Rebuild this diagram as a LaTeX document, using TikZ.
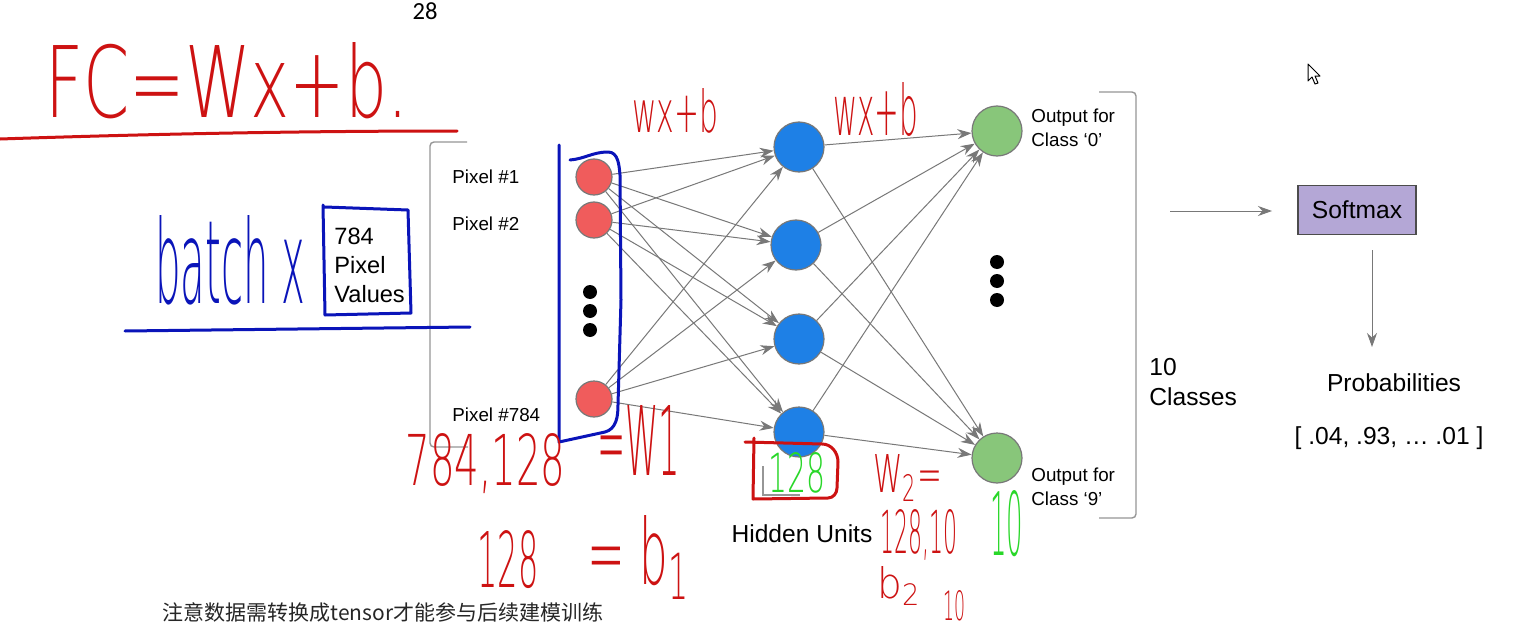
\documentclass[tikz,border=0pt]{standalone}
\usepackage{fontspec}
\setmainfont{Liberation Sans}
\newfontfamily\cjk{Noto Sans CJK SC}
\newfontfamily\slidenum{Carlito}
\IfFontExistsTF{DejaVu Sans ExtraLight}
    {\newfontfamily\handfont{DejaVu Sans ExtraLight}}
    {\newfontfamily\handfont{Fira Sans}}
\usetikzlibrary{arrows.meta}
\definecolor{pixred}{RGB}{240,92,92}
\definecolor{hidblue}{RGB}{30,128,230}
\definecolor{outgreen}{RGB}{136,198,122}
\definecolor{softpurple}{RGB}{180,167,214}
\definecolor{edgegray}{RGB}{120,120,120}
\definecolor{brackgray}{RGB}{150,150,150}
\definecolor{penred}{RGB}{205,18,18}
\definecolor{penblue}{RGB}{10,20,185}
\definecolor{pengreen}{RGB}{40,215,40}
\newlength\pxlen
\setlength\pxlen{0.5pt}
\newcommand{\hand}[3]{\resizebox{#1\pxlen}{#2\pxlen}{\handfont #3}}
\begin{document}
\begin{tikzpicture}[x=0.5pt,y=-0.5pt,
    unit/.style={circle,draw=edgegray,line width=0.6pt,inner sep=0pt},
    pixnode/.style={unit,fill=pixred,minimum size=18pt},
    hidnode/.style={unit,fill=hidblue,minimum size=25pt},
    outnode/.style={unit,fill=outgreen,minimum size=25pt},
    dot/.style={circle,fill=black,inner sep=0pt,minimum size=7pt},
    conn/.style={draw=edgegray,line width=0.5pt,-{Stealth[length=7pt,width=5pt]}},
    lbl/.style={font=\fontsize{9.4}{12}\selectfont,inner sep=0pt,align=left},
    big/.style={font=\fontsize{12.3}{15}\selectfont,inner sep=0pt,align=left},
    pen/.style={line width=1.5pt,line cap=round,line join=round},
    hw/.style={inner sep=0pt,anchor=base west}]
    \fill[white] (0,0) rectangle (1528,637);
    \useasboundingbox (0,0) rectangle (1528,637);
    \node[font=\slidenum\fontsize{12.3}{14}\selectfont] (pagenum) at (425,11) {28};

    % brackets
    \draw[brackgray,line width=0.7pt,rounded corners=2pt] (467,142) -- (430,142) -- (430,447) -- (468,447);
    \draw[brackgray,line width=0.7pt,rounded corners=2pt] (1099,92) -- (1136,92) -- (1136,518) -- (1099,518);

    % input layer
    \node[pixnode] (pix1) at (594,177) {};
    \node[pixnode] (pix2) at (594,220) {};
    \node[pixnode] (pix784) at (594,399) {};
    \foreach \y in {292,311,330} \node[dot] at (590,\y) {};
    \node[lbl,anchor=west] (pix1lbl) at (452,177) {Pixel \#1};
    \node[lbl,anchor=west] (pix2lbl) at (452,224) {Pixel \#2};
    \node[lbl,anchor=west] (pix784lbl) at (452,415) {Pixel \#784};
    \node[font=\fontsize{11.8}{14.5}\selectfont,inner sep=0pt,align=left,anchor=west] (pixvals) at (334,265) {784\\Pixel\\Values};

    % hidden layer
    \node[hidnode] (hid1) at (799,147) {};
    \node[hidnode] (hid2) at (796,245) {};
    \node[hidnode] (hid3) at (799,339) {};
    \node[hidnode] (hid4) at (799,432) {};
    \node[big] (hidlbl) at (802,534) {Hidden Units};

    % output layer
    \node[outnode] (out0) at (997,131) {};
    \node[outnode] (out9) at (997,458) {};
    \foreach \y in {262,281,300} \node[dot] at (997,\y) {};
    \node[lbl,anchor=west] (out0lbl) at (1031,128) {Output for\\Class ‘0’};
    \node[lbl,anchor=west] (out9lbl) at (1031,487) {Output for\\Class ‘9’};
    \node[big,anchor=west] (nclass) at (1149,382) {10\\Classes};

    \foreach \i in {pix1,pix2,pix784}
        \foreach \j in {hid1,hid2,hid3,hid4}
            \draw[conn] (\i) -- (\j);
    \foreach \i in {hid1,hid2,hid3,hid4}
        \foreach \j in {out0,out9}
            \draw[conn] (\i) -- (\j);

    % softmax
    \node[big,align=center,draw=black!70,line width=0.6pt,fill=softpurple,minimum width=59pt,minimum height=24.5pt] (softmax) at (1357,210) {Softmax};
    \coordinate (clsout) at (1170,211);
    \coordinate (smin) at (1272,211);
    \draw[conn] (clsout) -- (smin);
    \coordinate (smout) at (1372,250);
    \coordinate (probin) at (1372,347);
    \draw[conn] (smout) -- (probin);
    \node[big] (prob) at (1394,383) {Probabilities};
    \node[big] (probvals) at (1389,438) {[ .04, .93, … .01 ]};

    \node[anchor=west,inner sep=0pt,font=\cjk\fontsize{10.5}{12}\selectfont,text=black!85] (note) at (162,612) {注意数据需转换成tensor才能参与后续建模训练};

    % cursor
    \draw[black,fill=white,line width=0.5pt,line join=round] (1308,64) -- (1308,81) -- (1312,77) -- (1315,84) -- (1318,83) -- (1315,76) -- (1320,76) -- cycle;

    % pen notes
    \node[hw,text=penred] (fc) at (45,117) {\hand{363}{75}{FC=Wx+b.}};
    \draw[pen,penred] (0,139) .. controls (150,134) and (300,131) .. (457,131);
    \node[hw,text=penblue] (batch) at (155,303) {\hand{150}{88}{batch x}};
    \draw[pen,penblue] (323,205) -- (325,315) -- (411,313) -- (408,210) -- (325,207);
    \draw[pen,penblue] (125,331) -- (470,327);
    \draw[pen,penblue] (570,160) to[out=5,in=180] (608,152) to[out=0,in=95] (620,175) -- (621,300) -- (618,405) to[out=-90,in=15] (605,432) -- (559,442) -- (559,145);
    \node[hw,text=penred] (wxb1) at (632,132) {\hand{86}{44}{wx+b}};
    \node[hw,text=penred] (wxb2) at (833,135) {\hand{85}{53}{wx+b}};
    \node[hw,text=penred] (wshape1) at (405,485) {\hand{160}{52}{784,128}};
    \node[hw,text=penred] (weq1) at (597,475) {\hand{83}{70}{=W1}};
    \node[hw,text=penred] (bnum1) at (477,587) {\hand{61}{57}{128}};
    \node[hw,text=penred] (beq1) at (587,584) {\hand{103}{69}{= b\textsubscript{1}}};
    \draw[brackgray,line width=0.6pt] (763,466) -- (763,495) -- (800,495);
    \draw[pen,penred] (745,442) -- (822,444) to[out=0,in=90] (838,462) -- (837,488) to[out=-90,in=0] (828,498) -- (753,499) -- (754,438);
    \node[hw,text=pengreen] (hidcount) at (768,492) {\hand{57}{40}{128}};
    \node[hw,text=penred] (weq2) at (873,492) {\hand{69}{38}{W\textsubscript{2}=}};
    \node[hw,text=penred] (wshape2) at (880,553) {\hand{77}{44}{128,10}};
    \node[hw,text=penred] (beq2) at (877,598) {\hand{44}{32}{b\textsubscript{2}}};
    \node[hw,text=penred] (bnum2) at (943,620) {\hand{22}{30}{10}};
    \node[hw,text=pengreen] (outcount) at (990,555) {\hand{33}{65}{10}};
\end{tikzpicture}
\end{document}
